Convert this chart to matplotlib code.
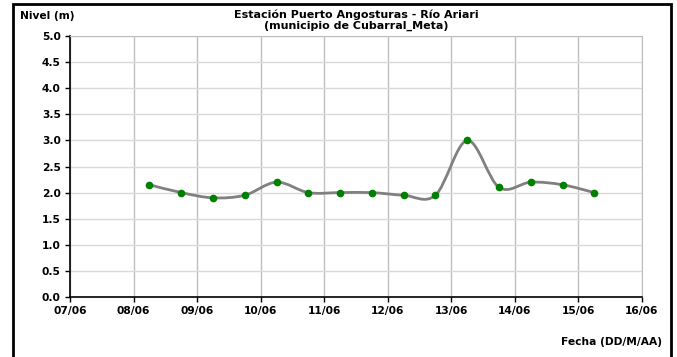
import numpy as np
import matplotlib
matplotlib.use("Agg")
import matplotlib.pyplot as plt
import matplotlib.dates as mdates
from matplotlib.path import Path
from matplotlib.patches import PathPatch, Rectangle
from datetime import datetime

plt.rcParams["font.family"] = ["DejaVu Sans"]
plt.rcParams["font.weight"] = "bold"

# -----------------------------
# DATA
# -----------------------------
fechas = [
    "2024-06-08 06:00", "2024-06-08 18:00",
    "2024-06-09 06:00", "2024-06-09 18:00",
    "2024-06-10 06:00", "2024-06-10 18:00",
    "2024-06-11 06:00", "2024-06-11 18:00",
    "2024-06-12 06:00", "2024-06-12 18:00",
    "2024-06-13 06:00", "2024-06-13 18:00",
    "2024-06-14 06:00", "2024-06-14 18:00",
    "2024-06-15 06:00",
]
nivel = [2.15, 2.0, 1.9, 1.95, 2.2, 2.0, 2.0, 2.0, 1.95, 1.95, 3.0, 2.1, 2.2, 2.15, 2.0]

titulo = "Estación Puerto Angosturas - Río Ariari\n(municipio de Cubarral_Meta)"

x = mdates.date2num([datetime.strptime(f, "%Y-%m-%d %H:%M") for f in fechas])
y = np.array(nivel)

# -----------------------------
# FIGURE
# -----------------------------
fig = plt.figure(figsize=(6.77, 3.57), dpi=100)
ax = fig.add_axes([70 / 677, 1 - 297 / 357, 572 / 677, 261 / 357])

# outer black frame
fig.patches.append(Rectangle((12.5 / 677, -0.05), 658 / 677, 1.05 - 3.5 / 357,
                             transform=fig.transFigure, fill=False,
                             edgecolor="black", linewidth=2))

# smoothed line (Excel style bezier through the points)
verts = [(x[0], y[0])]
codes = [Path.MOVETO]
n = len(x)
for i in range(n - 1):
    p0 = np.array([x[max(i - 1, 0)], y[max(i - 1, 0)]])
    p1 = np.array([x[i], y[i]])
    p2 = np.array([x[i + 1], y[i + 1]])
    p3 = np.array([x[min(i + 2, n - 1)], y[min(i + 2, n - 1)]])
    c1 = p1 + (p2 - p0) / 6
    c2 = p2 - (p3 - p1) / 6
    verts += [tuple(c1), tuple(c2), tuple(p2)]
    codes += [Path.CURVE4] * 3
ax.add_patch(PathPatch(Path(verts, codes), fill=False, edgecolor="#808080",
                       linewidth=2, zorder=3))
ax.plot(x, y, linestyle="none", marker="o", markersize=4.5,
        color="#008000", zorder=4)

# axes
ax.set_xlim(mdates.date2num(datetime(2024, 6, 7)), mdates.date2num(datetime(2024, 6, 16)))
ax.set_ylim(0, 5)
ax.xaxis.set_major_locator(mdates.DayLocator())
ax.xaxis.set_major_formatter(mdates.DateFormatter("%d/%m"))
ax.set_yticks(np.arange(0, 5.01, 0.5))
ax.yaxis.set_major_formatter(matplotlib.ticker.FormatStrFormatter("%.1f"))
ax.tick_params(labelsize=7.7, length=3.6, width=1, pad=3, color="black")

ax.grid(axis="y", color="#d9d9d9", linewidth=1)
ax.grid(axis="x", color="#bfbfbf", linewidth=1)
ax.set_axisbelow(True)
for s in ["top", "right"]:
    ax.spines[s].set_color("#bfbfbf")
for s in ["left", "bottom"]:
    ax.spines[s].set_color("black")
    ax.spines[s].set_linewidth(1.2)

fig.text(356 / 677, 1 - 9 / 357, titulo, ha="center", va="top",
         fontsize=8, fontweight="bold", linespacing=1.1)
fig.text(20 / 677, 1 - 16 / 357, "Nivel (m)", ha="left", va="center",
         fontsize=7.7, fontweight="bold")
fig.text(662 / 677, 1 - 342 / 357, "Fecha (DD/M/AA)", ha="right", va="center",
         fontsize=7.7, fontweight="bold")

fig.savefig("out.png", dpi=100)
